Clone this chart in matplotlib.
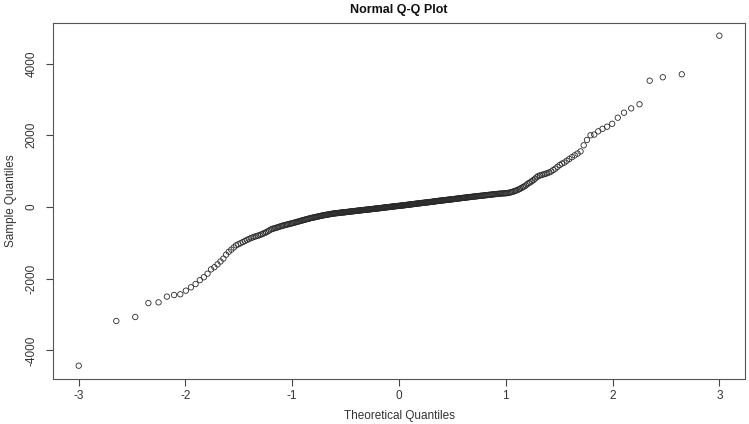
import statistics
import matplotlib
matplotlib.use("Agg")
import matplotlib.pyplot as plt

# sorted sample values (n = 370)
lower_tail = [-4427, -3180, -3068, -2680, -2660, -2500, -2455, -2435, -2334, -2240, -2150,
              -2040, -1960, -1860, -1740, -1680, -1600, -1520, -1440, -1330,
              -1250, -1190, -1130, -1070, -1040, -1010, -980, -950, -920, -895,
              -870, -850, -830, -815, -800, -785, -765, -745, -725, -705, -680, -655, -630,
              -612, -600, -588, -576, -564, -552, -540]
lower_mid = [-526, -517, -508, -499, -490, -481, -472, -463, -455,
             -446, -437, -428, -419, -410, -401, -392, -383, -375,
             -366, -358, -350, -342, -334, -326, -318, -311, -304, -298,
             -292, -286, -280, -274, -268, -262, -256, -250, -244, -238, -233,
             -228, -224, -219, -215, -210, -206, -201, -197, -192, -188, -184, -181,
             -178, -175, -172, -169, -167, -164, -161, -158, -156, -153, -150, -148, -146,
             -142, -140, -137, -134, -132, -129, -126, -124, -121, -118, -116, -113, -111,
             -108, -105, -103, -100, -98, -95, -93, -90, -88, -85, -83, -80, -78, -76,
             -74, -72, -69, -67, -64, -62, -59, -57, -54, -52, -49, -47, -44, -42, -40,
             -38, -35, -33, -30, -28, -25, -22, -20, -17, -15, -12, -10, -7, -5,
             -3, 0, 2, 5, 7, 10, 12, 15, 17, 20, 22, 25, 27, 29, 30]
upper_mid = [32, 35, 37, 40, 42, 45, 47, 50, 52, 55, 57, 60, 62, 65, 67,
             70, 72, 75, 78, 80, 83, 86, 88, 91, 94, 96, 99, 101, 104,
             106, 109, 111, 114, 116, 119, 121, 124, 126, 129, 131, 134, 136, 139, 141,
             144, 147, 150, 153, 156, 159, 162, 165, 168, 171, 173, 176, 178,
             181, 183, 186, 189, 191, 194, 197, 199, 202, 205, 207, 210, 212, 215,
             218, 221, 224, 227, 230, 233, 236, 239, 242, 245, 248, 251,
             254, 257, 260, 263, 266, 269, 272, 275, 278, 281, 284, 287,
             290, 293, 296, 299, 302, 305, 308, 311, 314, 317, 320, 323,
             327, 330, 333, 337, 340, 343, 347, 350, 353, 357,
             360, 363, 366, 369, 372, 375, 378, 380, 382]
upper_tail = [383, 388, 395, 402, 410, 420, 432, 445, 458,
              475, 490, 510, 530, 555, 575, 600,
              640, 665, 690, 720, 750, 790, 830,
              865, 880, 895, 910, 925, 945,
              965, 990, 1030, 1070, 1120,
              1170, 1210, 1240, 1290, 1340, 1390, 1440, 1490, 1550, 1720,
              1870, 2000, 2020, 2110, 2180, 2240, 2320, 2490, 2630, 2750,
              2865, 3523, 3618, 3701, 4778]

sample = lower_tail + lower_mid + upper_mid + upper_tail
n = len(sample)
# theoretical quantiles as in R's qqnorm (ppoints, a = 0.5)
nd = statistics.NormalDist()
theoretical = [nd.inv_cdf((i - 0.5) / n) for i in range(1, n + 1)]

plt.rcParams['font.family'] = ['Liberation Sans', 'DejaVu Sans']
plt.rcParams['axes.unicode_minus'] = False
fig = plt.figure(figsize=(7.49, 4.24), dpi=100)
ax = fig.add_axes([0.0708, 0.1061, 0.9239, 0.8397])

ax.scatter(theoretical, sample, s=15, facecolors='none', edgecolors='#2a2a2a', linewidths=0.6)

ax.set_xlim(-3.24, 3.24)
ax.set_ylim(-4798, 5132)
ax.set_xticks([-3, -2, -1, 0, 1, 2, 3])
ax.set_yticks([-4000, -2000, 0, 2000, 4000])
ax.tick_params(direction='out', length=5, width=0.8, color='#444444', labelsize=8.5, labelcolor='#333333')
ax.tick_params(axis='x', pad=3)
ax.tick_params(axis='y', pad=6)
for lab in ax.get_yticklabels():
    lab.set_rotation(90)
    lab.set_va('center')
for sp in ax.spines.values():
    sp.set_color('#555555')
    sp.set_linewidth(0.8)

ax.set_xlabel('Theoretical Quantiles', fontsize=8.5, color='#333333', labelpad=6)
ax.set_ylabel('Sample Quantiles', fontsize=8.5, color='#333333', labelpad=6)
ax.set_title('Normal Q-Q Plot', fontsize=9, fontweight='bold', color='#111111', pad=7)

fig.savefig('out.png', dpi=100)
